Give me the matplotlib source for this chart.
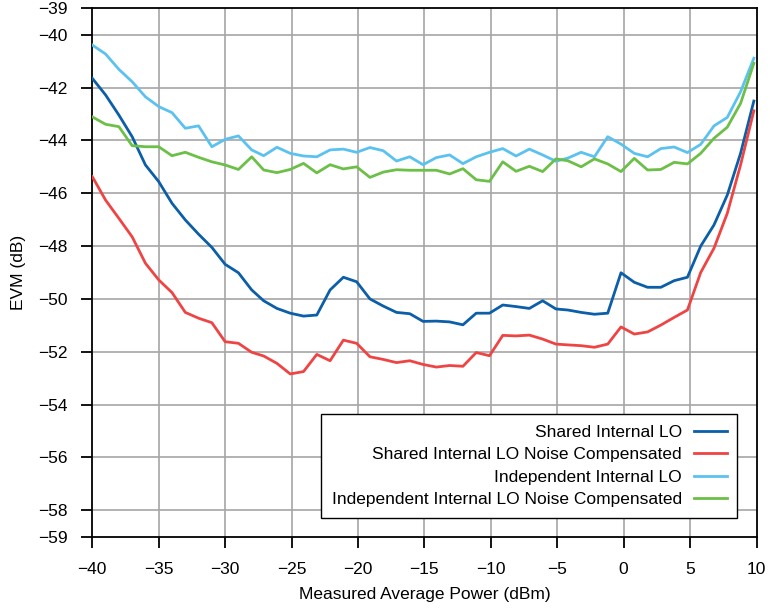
import matplotlib
matplotlib.use("Agg")
import matplotlib.pyplot as plt

plt.rcParams['font.family'] = ['Liberation Sans', 'DejaVu Sans']

# Measured average power (dBm)
power = [-40.0, -39.0, -38.0, -37.0, -36.0, -35.0, -34.0, -33.0, -32.0, -31.0,
         -30.0, -29.0, -28.0, -27.1, -26.1, -25.1, -24.1, -23.1, -22.1, -21.1,
         -20.1, -19.1, -18.1, -17.1, -16.1, -15.1, -14.1, -13.1, -12.1, -11.1,
         -10.1, -9.1, -8.1, -7.1, -6.1, -5.1, -4.2, -3.2, -2.2, -1.2,
         -0.2, 0.8, 1.8, 2.8, 3.8, 4.8, 5.8, 6.8, 7.8, 8.8, 9.8]

shared_lo = [-41.65, -42.28, -43.04, -43.86, -44.93, -45.56, -46.38, -47.01, -47.55, -48.05,
             -48.69, -49.01, -49.66, -50.07, -50.36, -50.54, -50.65, -50.61, -49.66, -49.18,
             -49.35, -50.00, -50.27, -50.51, -50.56, -50.85, -50.84, -50.87, -50.98, -50.54,
             -50.54, -50.23, -50.29, -50.36, -50.07, -50.38, -50.42, -50.51, -50.58, -50.54,
             -49.01, -49.37, -49.56, -49.56, -49.31, -49.18, -48.00, -47.20, -46.07, -44.49, -42.51]

shared_lo_comp = [-45.37, -46.26, -46.95, -47.65, -48.65, -49.28, -49.76, -50.51, -50.73, -50.90,
                  -51.62, -51.68, -52.02, -52.16, -52.44, -52.84, -52.75, -52.10, -52.34, -51.56,
                  -51.68, -52.19, -52.29, -52.41, -52.34, -52.48, -52.58, -52.52, -52.55, -52.03,
                  -52.15, -51.38, -51.40, -51.37, -51.52, -51.71, -51.74, -51.77, -51.83, -51.71,
                  -51.06, -51.33, -51.25, -50.99, -50.70, -50.42, -49.00, -48.08, -46.76, -44.93, -42.88]

indep_lo = [-40.39, -40.73, -41.31, -41.78, -42.35, -42.72, -42.95, -43.54, -43.45, -44.24,
            -43.96, -43.83, -44.36, -44.58, -44.26, -44.49, -44.59, -44.62, -44.36, -44.33,
            -44.45, -44.27, -44.39, -44.78, -44.62, -44.92, -44.65, -44.55, -44.88, -44.62,
            -44.45, -44.31, -44.59, -44.33, -44.55, -44.79, -44.67, -44.45, -44.62, -43.86,
            -44.14, -44.49, -44.62, -44.31, -44.25, -44.46, -44.15, -43.45, -43.13, -42.16, -40.89]

indep_lo_comp = [-43.11, -43.39, -43.48, -44.20, -44.24, -44.24, -44.58, -44.45, -44.64, -44.81,
                 -44.93, -45.10, -44.62, -45.12, -45.22, -45.10, -44.87, -45.23, -44.92, -45.08,
                 -45.00, -45.40, -45.20, -45.11, -45.13, -45.13, -45.13, -45.27, -45.07, -45.49,
                 -45.55, -44.81, -45.17, -44.98, -45.18, -44.70, -44.77, -45.00, -44.70, -44.89,
                 -45.18, -44.68, -45.12, -45.10, -44.83, -44.89, -44.49, -43.92, -43.50, -42.60, -41.08]

labels = ["Shared Internal LO", "Shared Internal LO Noise Compensated",
          "Independent Internal LO", "Independent Internal LO Noise Compensated"]
colors = ["#0b5ea8", "#ef4444", "#5bc2f0", "#6cbf47"]

x_ticks = [-40, -35, -30, -25, -20, -15, -10, -5, 0, 5, 10]
y_ticks = [-39, -40, -42, -44, -46, -48, -50, -52, -54, -56, -58, -59]
y_grid = [-40, -42, -44, -46, -48, -50, -52, -54, -56, -58]

fig = plt.figure(figsize=(7.7, 6.08), dpi=100)
ax = fig.add_axes([92.3 / 770, 1 - 536.7 / 608, (756.5 - 92.3) / 770, (536.7 - 8.3) / 608])

for series, lab, col in zip([shared_lo, shared_lo_comp, indep_lo, indep_lo_comp], labels, colors):
    ax.plot(power, series, color=col, lw=2.0, label=lab, zorder=3)

ax.set_xlim(-40, 10)
ax.set_ylim(-59, -39)
ax.set_xticks(x_ticks)
ax.set_yticks(y_ticks)
ax.set_xticklabels([("\u2212" + str(-t)) if t < 0 else str(t) for t in x_ticks])
ax.set_yticklabels(["\u2212" + str(-t) for t in y_ticks])

for xv in x_ticks[1:-1]:
    ax.axvline(xv, color="#a6a6a6", lw=1.2, zorder=1)
for yv in y_grid:
    ax.axhline(yv, color="#a6a6a6", lw=1.2, zorder=1)

for s in ax.spines.values():
    s.set_linewidth(1.3)
    s.set_color("black")
ax.tick_params(direction="out", length=7.6, width=1.3, labelsize=12.5)
ax.tick_params(axis="x", pad=10.5)
ax.tick_params(axis="y", pad=10.0)

ax.set_xlabel("Measured Average Power (dBm)", fontsize=12.5, labelpad=7)
ax.set_ylabel("EVM (dB)", fontsize=12.5, labelpad=9)

leg = ax.legend(loc="lower right", markerfirst=False, fontsize=12.5, fancybox=False,
                edgecolor="black", framealpha=1, handlelength=1.9, handletextpad=0.7,
                labelspacing=0.42, borderaxespad=1.1, borderpad=0.6)
leg.get_frame().set_linewidth(1.0)

fig.savefig("out.png", dpi=100)
